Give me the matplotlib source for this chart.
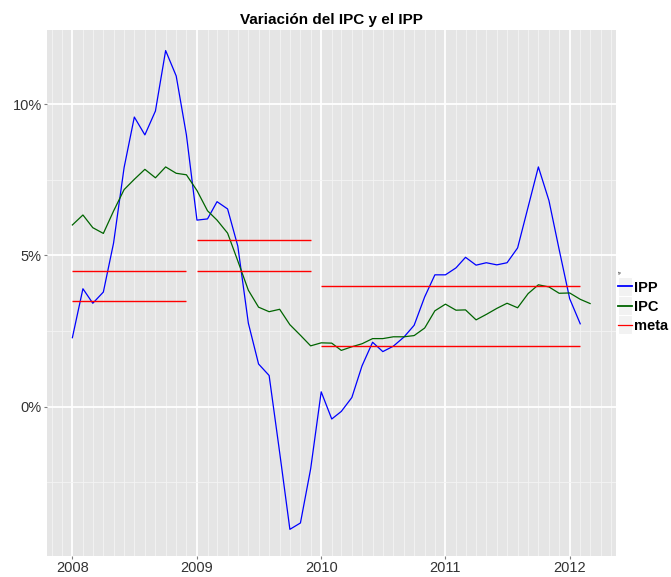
import matplotlib
matplotlib.use("Agg")
import matplotlib.pyplot as plt
import matplotlib.dates as mdates
from matplotlib.legend_handler import HandlerLine2D
from matplotlib.lines import Line2D
from matplotlib.patches import Rectangle
from matplotlib.ticker import FuncFormatter, MultipleLocator
import pandas as pd

plt.rcParams['font.family'] = ['Liberation Sans', 'DejaVu Sans']

# datos mensuales (variacion anual, %)
fechas_ipp = pd.date_range("2008-01-01", "2012-02-01", freq="MS")
fechas_ipc = pd.date_range("2008-01-01", "2012-03-01", freq="MS")

ipp = [2.28, 3.90, 3.42, 3.79, 5.41, 7.91, 9.58, 8.99, 9.78, 11.78, 10.94, 8.99,
       6.17, 6.21, 6.78, 6.54, 5.31, 2.76, 1.41, 1.03, -1.52, -4.06, -3.85, -2.06,
       0.49, -0.41, -0.16, 0.30, 1.35, 2.13, 1.82, 2.00, 2.30, 2.69, 3.63, 4.36,
       4.36, 4.59, 4.94, 4.68, 4.76, 4.69, 4.76, 5.25, 6.61, 7.93, 6.82, 5.20,
       3.57, 2.74]

ipc = [6.01, 6.34, 5.92, 5.73, 6.47, 7.18, 7.52, 7.85, 7.57, 7.93, 7.72, 7.67,
       7.15, 6.48, 6.17, 5.74, 4.82, 3.85, 3.29, 3.14, 3.22, 2.71, 2.36, 2.01,
       2.11, 2.10, 1.86, 1.98, 2.08, 2.25, 2.25, 2.31, 2.31, 2.35, 2.60, 3.17,
       3.39, 3.19, 3.20, 2.87, 3.05, 3.25, 3.42, 3.27, 3.74, 4.03, 3.96, 3.75,
       3.76, 3.55, 3.41]

# rango meta de inflacion del banco central
meta_inicio = ["2008-01-01", "2008-01-01", "2009-01-01", "2009-01-01", "2010-01-01", "2010-01-01"]
meta_fin = ["2008-12-01", "2008-12-01", "2009-12-01", "2009-12-01", "2012-02-01", "2012-02-01"]
meta_valor = [3.5, 4.5, 4.5, 5.5, 2.0, 4.0]


class HandlerKey(HandlerLine2D):
    # legend key with grey box behind, like ggplot
    def create_artists(self, legend, orig_handle, xdescent, ydescent, width, height, fontsize, trans):
        box = Rectangle((-xdescent, -ydescent - 3), width, height + 6,
                        facecolor="#F2F2F2", edgecolor="white", lw=0.8, transform=trans)
        arts = super().create_artists(legend, orig_handle, xdescent, ydescent, width, height, fontsize, trans)
        return [box] + arts


fig = plt.figure(figsize=(6.71, 5.77), dpi=100)
ax = fig.add_axes([0.0693, 0.036, 0.8487, 0.912])
ax.set_facecolor("#E5E5E5")

ax.plot(fechas_ipp, ipp, color="blue", lw=0.9)
ax.plot(fechas_ipc, ipc, color="#006400", lw=0.9)
for ini, fin, v in zip(meta_inicio, meta_fin, meta_valor):
    lc = ax.hlines(v, pd.Timestamp(ini), pd.Timestamp(fin), color="red", lw=1.0)
    lc.set_snap(True)

pad = pd.Timedelta(days=76)
ax.set_xlim(fechas_ipc[0] - pad, fechas_ipc[-1] + pad)
ax.set_ylim(-4.95, 12.46)

ax.xaxis.set_major_locator(mdates.YearLocator())
ax.xaxis.set_major_formatter(mdates.DateFormatter("%Y"))
ax.xaxis.set_minor_locator(mdates.MonthLocator())
ax.yaxis.set_major_locator(MultipleLocator(5))
ax.yaxis.set_minor_locator(MultipleLocator(2.5))
ax.yaxis.set_major_formatter(FuncFormatter(lambda v, p: f"{v:.0f}%"))

ax.grid(which="major", color="white", lw=1.3)
ax.grid(which="minor", color="#F4F4F4", lw=0.6)
ax.set_axisbelow(True)
for s in ax.spines.values():
    s.set_visible(False)
ax.tick_params(which="major", length=2.5, color="#7F7F7F", labelsize=10.5, labelcolor="#333333", pad=1)
ax.tick_params(which="minor", length=0)

ax.set_title("Variación del IPC y el IPP", fontsize=11, fontweight="bold", pad=4)

handles = [Line2D([], [], color="blue", lw=1.3),
           Line2D([], [], color="#006400", lw=1.3),
           Line2D([], [], color="red", lw=0.9)]
leg = ax.legend(handles, ["IPP", "IPC", "meta"], loc="center left",
                bbox_to_anchor=(0.998, 0.483), frameon=False, title="ipp",
                title_fontsize=2, handlelength=1.0, handletextpad=0.12,
                labelspacing=0.35, borderaxespad=0.0, borderpad=0.2,
                prop={"size": 10.5, "weight": "bold"},
                handler_map={Line2D: HandlerKey()})
leg._legend_box.align = "left"

fig.savefig("out.png", dpi=100)
